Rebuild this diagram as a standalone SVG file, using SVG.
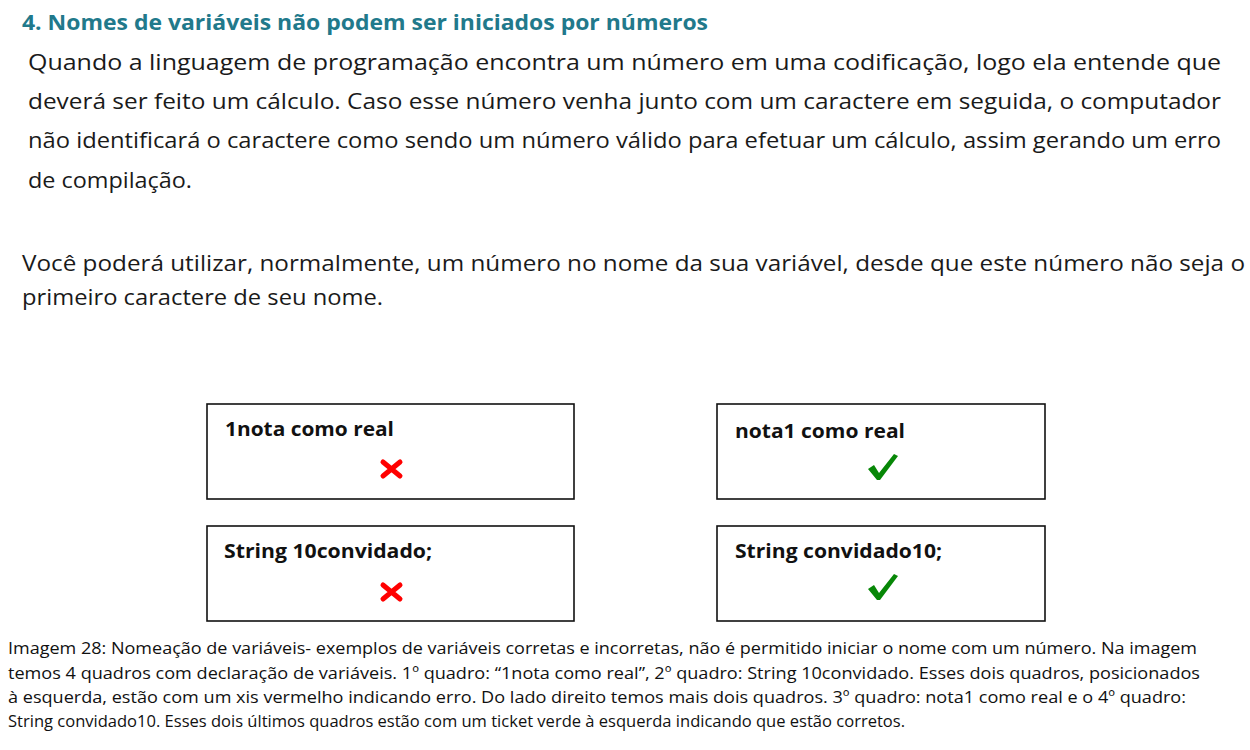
<svg xmlns="http://www.w3.org/2000/svg" width="1250" height="750" viewBox="0 0 1250 750">
<style>
.h{font-family:"Open Sans","Liberation Sans",sans-serif;font-weight:bold;font-size:21px;fill:#21798B}
.b{font-family:"Open Sans","Liberation Sans",sans-serif;font-size:21px;fill:#1a1a1a}
.c{font-family:"Open Sans","Liberation Sans",sans-serif;font-size:16px;fill:#111}
.t{font-family:"Open Sans","Liberation Sans",sans-serif;font-weight:bold;font-size:19.5px;fill:#111}
.box{fill:#fff;stroke:#111;stroke-width:1.6}
.x{stroke:#f00;stroke-width:5;stroke-linecap:round;fill:none}
.ok{fill:#078707}
</style>
<rect width="1250" height="750" fill="#fff"/>
<text class="h" x="22" y="30" textLength="686" lengthAdjust="spacingAndGlyphs">4. Nomes de variáveis não podem ser iniciados por números</text>
<text class="b" x="28" y="70" textLength="1193" lengthAdjust="spacingAndGlyphs">Quando a linguagem de programação encontra um número em uma codificação, logo ela entende que</text>
<text class="b" x="28" y="109" textLength="1193" lengthAdjust="spacingAndGlyphs">deverá ser feito um cálculo. Caso esse número venha junto com um caractere em seguida, o computador</text>
<text class="b" x="28" y="148" textLength="1193" lengthAdjust="spacingAndGlyphs">não identificará o caractere como sendo um número válido para efetuar um cálculo, assim gerando um erro</text>
<text class="b" x="28" y="188" textLength="164" lengthAdjust="spacingAndGlyphs">de compilação.</text>
<text class="b" x="22" y="271" textLength="1223" lengthAdjust="spacingAndGlyphs">Você poderá utilizar, normalmente, um número no nome da sua variável, desde que este número não seja o</text>
<text class="b" x="22" y="305" textLength="361" lengthAdjust="spacingAndGlyphs">primeiro caractere de seu nome.</text>
<g id="q1">
<rect class="box" x="207" y="404" width="367" height="95"/>
<text class="t" x="225" y="436" textLength="169" lengthAdjust="spacingAndGlyphs">1nota como real</text>
<path class="x" d="M383,462 L400,476 M400,462 L383,476"/>
</g>
<g id="q2">
<rect class="box" x="207" y="526" width="367" height="95"/>
<text class="t" x="224" y="558" textLength="208" lengthAdjust="spacingAndGlyphs">String 10convidado;</text>
<path class="x" d="M383,585 L400,599 M400,585 L383,599"/>
</g>
<g id="q3">
<rect class="box" x="717" y="404" width="328" height="95"/>
<text class="t" x="735" y="438" textLength="170" lengthAdjust="spacingAndGlyphs">nota1 como real</text>
<path class="ok" d="M868,469 L874,465 L879,473 L894,454 L898,456 L880,480 L877,480 Z"/>
</g>
<g id="q4">
<rect class="box" x="717" y="526" width="328" height="95"/>
<text class="t" x="735" y="558" textLength="207" lengthAdjust="spacingAndGlyphs">String convidado10;</text>
<path class="ok" d="M868,589 L874,585 L879,593 L894,574 L898,576 L880,600 L877,600 Z"/>
</g>
<g id="connectors"></g>
<text class="c" x="8" y="654" textLength="1189" lengthAdjust="spacingAndGlyphs">Imagem 28: Nomeação de variáveis- exemplos de variáveis corretas e incorretas, não é permitido iniciar o nome com um número. Na imagem</text>
<text class="c" x="8" y="679" textLength="1192" lengthAdjust="spacingAndGlyphs">temos 4 quadros com declaração de variáveis. 1º quadro: “1nota como real”, 2º quadro: String 10convidado. Esses dois quadros, posicionados</text>
<text class="c" x="8" y="703" textLength="1178" lengthAdjust="spacingAndGlyphs">à esquerda, estão com um xis vermelho indicando erro. Do lado direito temos mais dois quadros. 3º quadro: nota1 como real e o 4º quadro:</text>
<text class="c" x="8" y="727" textLength="897" lengthAdjust="spacingAndGlyphs">String convidado10. Esses dois últimos quadros estão com um ticket verde à esquerda indicando que estão corretos.</text>
</svg>
